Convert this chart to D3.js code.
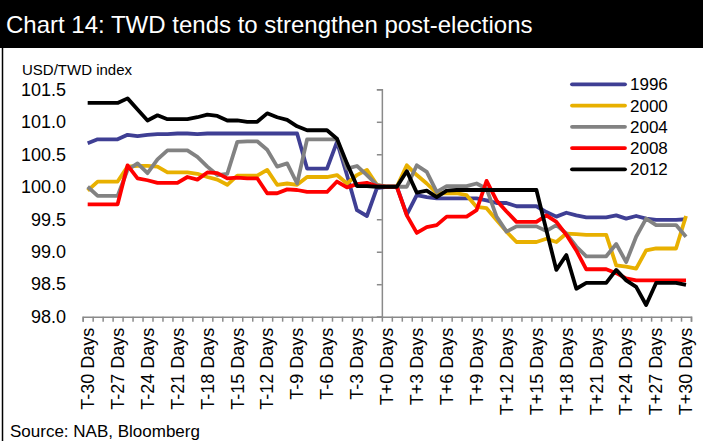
<!DOCTYPE html>
<html><head><meta charset="utf-8">
<script src="https://cdn.jsdelivr.net/npm/d3@7"></script>
<style>
html,body{margin:0;padding:0;background:#fff;}
svg{display:block;font-family:"Liberation Sans",Arial,sans-serif;}
</style></head>
<body><svg id="chart" width="703" height="441"></svg>
<script>
const days = [-30,-29,-28,-27,-26,-25,-24,-23,-22,-21,-20,-19,-18,-17,-16,-15,-14,-13,-12,-11,-10,-9,-8,-7,-6,-5,-4,-3,-2,-1,0,1,2,3,4,5,6,7,8,9,10,11,12,13,14,15,16,17,18,19,20,21,22,23,24,25,26,27,28,29,30];
const labelDays = [-30,-27,-24,-21,-18,-15,-12,-9,-6,-3,0,3,6,9,12,15,18,21,24,27,30];
const yTicks = [98.0,98.5,99.0,99.5,100.0,100.5,101.0,101.5];
const seriesNames = ["1996","2000","2004","2008","2012"];
const s1996 = [100.67,100.73,100.73,100.73,100.80,100.78,100.80,100.81,100.81,100.82,100.82,100.81,100.82,100.82,100.82,100.82,100.82,100.82,100.82,100.82,100.82,100.82,100.28,100.28,100.28,100.69,100.18,99.64,99.55,99.98,100.00,
100.00,99.57,99.87,99.84,99.82,99.82,99.82,99.82,99.82,99.79,99.75,99.75,99.70,99.70,99.70,99.61,99.54,99.60,99.56,99.53,99.53,99.53,99.56,99.51,99.55,99.51,99.49,99.49,99.49,99.50];
const s2000 = [99.94,100.08,100.08,100.08,100.31,100.32,100.32,100.31,100.22,100.22,100.22,100.20,100.15,100.11,100.03,100.17,100.17,100.17,100.26,100.03,100.05,100.03,100.15,100.15,100.15,100.18,100.05,100.18,100.26,100.03,100.00,
100.00,100.33,100.18,100.05,99.90,99.90,99.90,99.87,99.69,99.67,99.49,99.31,99.15,99.15,99.15,99.20,99.15,99.28,99.27,99.26,99.26,99.26,98.79,98.77,98.74,99.02,99.05,99.05,99.05,99.55];
const s2004 = [100.00,99.86,99.86,99.86,100.26,100.36,100.21,100.42,100.56,100.56,100.56,100.46,100.31,100.18,100.20,100.69,100.70,100.70,100.57,100.31,100.36,100.05,100.73,100.73,100.73,100.73,100.28,100.32,100.18,100.03,100.00,
100.00,100.00,100.33,100.23,99.92,100.01,100.01,100.01,100.05,99.97,99.54,99.31,99.39,99.39,99.39,99.32,99.41,99.28,99.08,98.93,98.93,98.93,99.12,98.84,99.23,99.51,99.41,99.41,99.41,99.23];
const s2008 = [99.73,99.73,99.73,99.73,100.33,100.13,100.10,100.06,100.06,100.06,100.15,100.11,100.22,100.21,100.13,100.14,100.13,100.13,99.90,99.90,99.96,99.95,99.92,99.92,99.92,100.08,99.99,100.04,100.06,100.01,100.00,
100.00,99.56,99.29,99.38,99.41,99.54,99.54,99.54,99.64,100.09,99.79,99.62,99.46,99.46,99.46,99.56,99.46,99.26,99.02,98.73,98.73,98.73,98.67,98.59,98.56,98.56,98.56,98.56,98.56,98.56];
const s2012 = [101.29,101.29,101.29,101.29,101.36,101.19,101.02,101.10,101.04,101.04,101.04,101.07,101.11,101.09,101.02,101.02,101.00,101.00,101.13,101.07,101.03,100.93,100.87,100.87,100.87,100.74,100.36,100.01,100.01,100.00,100.00,
100.00,100.24,99.91,99.94,99.84,99.94,99.95,99.95,99.95,99.95,99.95,99.95,99.95,99.95,99.95,99.33,98.72,98.95,98.43,98.52,98.52,98.52,98.72,98.56,98.46,98.18,98.52,98.52,98.52,98.49];
const seriesValues = [s1996,s2000,s2004,s2008,s2012];
const colors = ["#3f3f94","#e8b000","#828282","#ff0000","#000000"];

const svg = d3.select("#chart");
const dayLabel = d => (d < 0 ? "T" + d : "T+" + d) + " Days";

// title bar
svg.append("rect").attr("x",0).attr("y",0).attr("width",703).attr("height",48).attr("fill","#000");
svg.append("text").attr("x",6).attr("y",33).attr("fill","#fff").attr("font-size",24).text("Chart 14: TWD tends to strengthen post-elections");
// left frame line
svg.append("line").attr("x1",2.5).attr("x2",2.5).attr("y1",48).attr("y2",441).attr("stroke","#000").attr("stroke-width",1.5);

const xL = 82.7, xR = 691;
const x = d3.scaleBand().domain(days).range([xL,xR]).paddingInner(0).paddingOuter(0);
const xB = d3.scaleLinear().domain([0,days.length]).range([xL,xR]);
const y = d3.scaleLinear().domain([98,101.5]).range([316.7,89.3]);
const cx = d => x(d) + x.bandwidth()/2;

const axisColor = "#8a8a8a";
const gxb = svg.append("g").attr("transform","translate(0,316.7)")
  .call(d3.axisBottom(xB).tickValues(d3.range(0,days.length+1)).tickSize(5).tickFormat(""));
gxb.selectAll("path,line").attr("stroke",axisColor).attr("stroke-width",1.5);
const gxl = svg.append("g").attr("transform","translate(0,316.7)")
  .call(d3.axisBottom(x).tickValues(labelDays).tickSize(0).tickFormat(dayLabel));
gxl.select(".domain").remove();
gxl.selectAll("text").attr("font-size",18).attr("font-family","Liberation Sans, Arial, sans-serif").attr("fill","#000")
  .attr("transform","rotate(-90)").attr("text-anchor","end").attr("x",-11).attr("y",0).attr("dy","0.35em");

const gy = svg.append("g").attr("transform",`translate(${xB(30)},0)`)
  .call(d3.axisLeft(y).tickValues(yTicks).tickSize(5).tickFormat(""));
gy.selectAll("path,line").attr("stroke",axisColor).attr("stroke-width",1.5);
const gyl = svg.append("g").attr("transform","translate(66,0)")
  .call(d3.axisLeft(y).tickValues(yTicks).tickSize(0).tickPadding(0).tickFormat(d3.format(".1f")));
gyl.select(".domain").remove();
gyl.selectAll("text").attr("font-size",18).attr("font-family","Liberation Sans, Arial, sans-serif").attr("fill","#000");

svg.append("text").attr("x",22).attr("y",75).attr("font-size",15).text("USD/TWD index");

const line = d3.line().x((v,i)=>cx(days[i])).y(v=>y(v)).curve(d3.curveLinear);
seriesValues.forEach((vals,k)=>{
  svg.append("path").datum(vals).attr("d",line).attr("fill","none")
    .attr("stroke",colors[k]).attr("stroke-width",3.8).attr("stroke-linejoin","round");
});

const lg = svg.append("g");
seriesNames.forEach((n,k)=>{
  const yy = 84.3 + k*21.25;
  lg.append("line").attr("x1",572).attr("x2",625).attr("y1",yy).attr("y2",yy)
    .attr("stroke",colors[k]).attr("stroke-width",3.8).attr("stroke-linecap","round");
  lg.append("text").attr("x",630).attr("y",yy).attr("dy","0.35em").attr("font-size",17).text(n);
});

svg.append("text").attr("x",10).attr("y",437).attr("font-size",17).text("Source: NAB, Bloomberg");
</script></body></html>
